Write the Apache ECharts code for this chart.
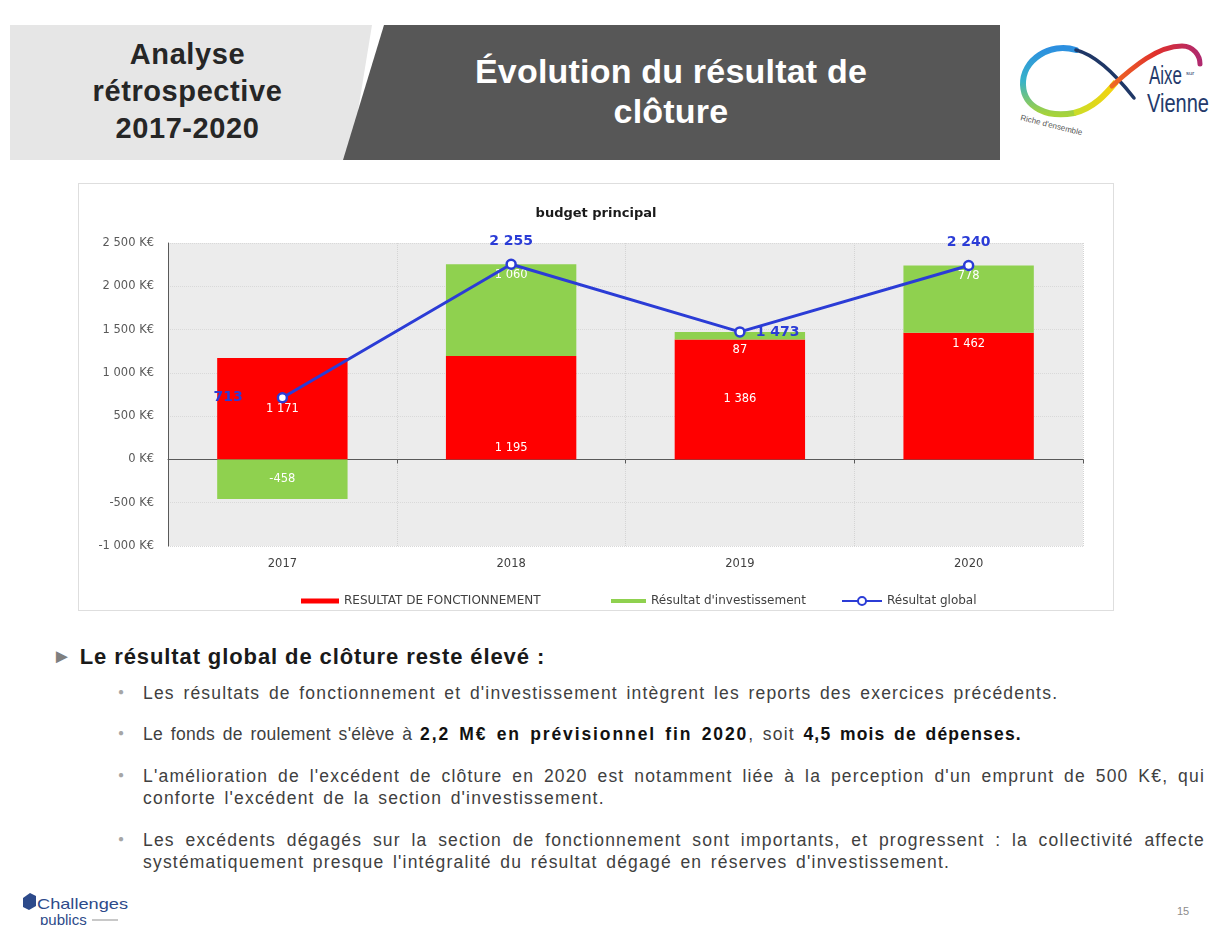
<!DOCTYPE html>
<html>
<head>
<meta charset="utf-8">
<style>
  html, body { margin: 0; padding: 0; background: #fff; }
  body { width: 1210px; height: 925px; position: relative; overflow: hidden; font-family: "Liberation Sans", Arial, sans-serif; }
  .abs { position: absolute; }
  #chart { left: 78px; top: 183px; width: 1036px; height: 428px; border: 1px solid #dedede; box-sizing: border-box; }
  .left-title { left: 10px; top: 36px; width: 355px; text-align: center; font-weight: bold; font-size: 29px; line-height: 37px; letter-spacing: 0.6px; color: #262626; }
  .main-title { left: 345px; top: 51px; width: 652px; text-align: center; font-weight: bold; font-size: 34px; line-height: 40px; letter-spacing: 0.2px; color: #fff; }
  .head { left: 52px; top: 644px; font-weight: bold; font-size: 22px; letter-spacing: 0.9px; color: #1a1a1a; }
  .head .tri { color: #7f7f7f; font-size: 20px; margin-right: 7px; position: relative; top: -1px; }
  .bul { left: 118px; width: 1092px; font-size: 17.5px; color: #404040; line-height: 22px; }
  .bul .dot { position: absolute; left: 0; top: -1px; color: #a6a6a6; font-size: 10px; }
  .bul .txt { position: absolute; left: 25px; width: 1062px; letter-spacing: 1.2px; word-spacing: 2.5px; white-space: nowrap; }
  .bul .just { text-align: justify; text-align-last: justify; white-space: normal; }
  .bul b { color: #111; }
  .tight { letter-spacing: 0.3px; }
  .wide { letter-spacing: 1.9px; }
</style>
</head>
<body>
<svg class="abs" style="left:0;top:0" width="1210" height="925">
  <defs>
    <linearGradient id="gLeft" x1="0" y1="0" x2="0" y2="1">
      <stop offset="0" stop-color="#2c8fe0"/>
      <stop offset="0.5" stop-color="#38b3c8"/>
      <stop offset="1" stop-color="#a6d33a"/>
    </linearGradient>
    <linearGradient id="gYel" x1="0" y1="0" x2="1" y2="0">
      <stop offset="0" stop-color="#c9dd2a"/>
      <stop offset="1" stop-color="#f6d20c"/>
    </linearGradient>
    <linearGradient id="gRed" x1="0" y1="0" x2="1" y2="0">
      <stop offset="0" stop-color="#ef6a24"/>
      <stop offset="0.5" stop-color="#e0302c"/>
      <stop offset="1" stop-color="#b0296e"/>
    </linearGradient>
  </defs>
  <polygon points="10,25 372,25 350,160 10,160" fill="#e6e6e6"/>
  <polygon points="384,25 1000,25 1000,160 343,160" fill="#575757"/>
  <!-- logo -->
  <path d="M1076,50 C1050,42 1022,60 1023,85 C1024,108 1048,118 1074,113" fill="none" stroke="url(#gLeft)" stroke-width="6" stroke-linecap="round"/>
  <path d="M1074,113 C1094,108 1106,94 1116,82" fill="none" stroke="url(#gYel)" stroke-width="6"/>
  <path d="M1076,50 C1096,55 1116,75 1134,98" fill="none" stroke="#1f3766" stroke-width="3.5" stroke-linecap="round"/>
  <path d="M1112,86 C1134,66 1158,46 1182,46 C1194,46 1200,56 1200,64" fill="none" stroke="url(#gRed)" stroke-width="5" stroke-linecap="round"/>
  <text x="1149" y="84" font-family="Liberation Sans" font-size="26" fill="#243a6b" textLength="33" lengthAdjust="spacingAndGlyphs">Aixe</text>
  <text x="1186" y="75" font-family="Liberation Sans" font-size="6" fill="#243a6b">sur</text>
  <text x="1147" y="112" font-family="Liberation Sans" font-size="26" fill="#243a6b" textLength="62" lengthAdjust="spacingAndGlyphs">Vienne</text>
  <text x="1020" y="120" font-family="Liberation Sans" font-size="8" fill="#555" transform="rotate(14 1020 120)">Riche d'ensemble</text>
  <!-- footer logo -->
  <path d="M23,898 l7,-5 l6,3 l0,10 l-7,4 l-6,-3 z" fill="#2d4a8a"/>
  <text x="37" y="909" font-family="Liberation Sans" font-size="15" fill="#2d4a8a" textLength="91" lengthAdjust="spacingAndGlyphs">Challenges</text>
  <text x="40" y="925" font-family="Liberation Sans" font-size="15" fill="#2d4a8a">publics</text>
  <line x1="92" y1="920" x2="118" y2="920" stroke="#c8c8c8" stroke-width="2"/>
  <text x="1177" y="915" font-family="Liberation Sans" font-size="11" fill="#8c8c8c">15</text>
</svg>

<div class="abs left-title">Analyse<br>rétrospective<br>2017-2020</div>
<div class="abs main-title">Évolution du résultat de<br>clôture</div>

<div id="chart" class="abs"></div>

<div class="abs head"><span class="tri">&#9658;</span>Le résultat global de clôture reste élevé :</div>
<div class="abs bul" style="top:682px"><span class="dot">&#9679;</span><div class="txt">Les résultats de fonctionnement et d'investissement intègrent les reports des exercices précédents.</div></div>
<div class="abs bul" style="top:723px"><span class="dot">&#9679;</span><div class="txt"><span class="tight">Le fonds de roulement s'élève à </span><b class="wide">2,2 M€ en prévisionnel fin 2020</b>, soit <b>4,5 mois de dépenses.</b></div></div>
<div class="abs bul" style="top:765px"><span class="dot">&#9679;</span><div class="txt"><div class="just">L'amélioration de l'excédent de clôture en 2020 est notamment liée à la perception d'un emprunt de 500 K€, qui</div><div>conforte l'excédent de la section d'investissement.</div></div></div>
<div class="abs bul" style="top:829px"><span class="dot">&#9679;</span><div class="txt"><div class="just">Les excédents dégagés sur la section de fonctionnement sont importants, et progressent : la collectivité affecte</div><div>systématiquement presque l'intégralité du résultat dégagé en réserves d'investissement.</div></div></div>

<script src="https://cdn.jsdelivr.net/npm/echarts@6/dist/echarts.min.js"></script>
<script>
// data
var years = ['2017', '2018', '2019', '2020'];
var fonctionnement = [1171, 1195, 1386, 1462];
var investissement = [-458, 1060, 87, 778];
var resultatGlobal = [713, 2255, 1473, 2240];

// label placement per year (style only)
var posFonct = ['inside', 'insideBottom', 'inside', 'insideTop'];
var posInvest = ['inside', 'insideTop', 'bottom', 'insideTop'];
var posGlobal = ['left', 'top', 'right', 'top'];

function fmt(v) {
    var s = String(Math.abs(Math.round(v))).replace(/\B(?=(\d{3})+(?!\d))/g, ' ');
    return (v < 0 ? '-' : '') + s;
}

var myChart = echarts.init(document.getElementById('chart'));

var FONT = 'DejaVu Sans';
var legendText = { fontSize: 12, color: '#404040', fontFamily: FONT };

var option = {
    animation: false,
    textStyle: { fontFamily: FONT },
    title: {
        text: 'budget principal',
        left: 'center',
        top: 18,
        textStyle: { fontSize: 13, fontWeight: 'bold', color: '#1a1a1a', fontFamily: FONT }
    },
    grid: {
        left: 89, right: 30, top: 59, bottom: 64,
        show: true,
        backgroundColor: '#ececec',
        borderWidth: 0
    },
    legend: [{
        left: 217, top: 406, itemWidth: 38, itemHeight: 5, itemGap: 4,
        textStyle: legendText,
        data: [{ name: 'RESULTAT DE FONCTIONNEMENT', icon: 'rect' }]
    }, {
        left: 527, top: 406, itemWidth: 35, itemHeight: 4,
        textStyle: legendText,
        data: [{ name: "Résultat d'investissement", icon: 'rect' }]
    }, {
        left: 757, top: 406, itemWidth: 40, itemHeight: 10,
        textStyle: legendText,
        data: [{ name: 'Résultat global' }]
    }],
    xAxis: [{
        type: 'category',
        data: years,
        position: 'bottom',
        axisLine: { show: false, onZero: false },
        axisTick: { show: false },
        axisLabel: { fontSize: 11.5, color: '#404040', margin: 12 },
        splitLine: {
            show: true,
            lineStyle: { color: '#d4d4d4', type: 'dotted' }
        }
    }, {
        type: 'category',
        data: years,
        position: 'bottom',
        axisLine: { show: true, onZero: true, lineStyle: { color: '#595959', width: 1 } },
        axisTick: { show: true, length: 4, lineStyle: { color: '#595959' } },
        axisLabel: { show: false },
        splitLine: { show: false }
    }],
    yAxis: {
        type: 'value',
        min: -1000,
        max: 2500,
        interval: 500,
        axisLine: { show: true, lineStyle: { color: '#595959' } },
        axisTick: { show: false },
        axisLabel: {
            fontSize: 11.5, color: '#595959', margin: 14,
            formatter: function (v) { return fmt(v) + ' K€'; }
        },
        splitLine: { show: true, lineStyle: { color: '#d9d9d9', type: 'dotted' } }
    },
    series: [{
        name: 'RESULTAT DE FONCTIONNEMENT',
        type: 'bar',
        stack: 'res',
        barWidth: '57%',
        itemStyle: { color: '#ff0000' },
        data: fonctionnement.map(function (v, i) {
            return { value: v, label: { position: posFonct[i] } };
        }),
        label: {
            show: true, color: '#ffffff', fontSize: 11.5,
            formatter: function (p) { return fmt(p.value); }
        }
    }, {
        name: "Résultat d'investissement",
        type: 'bar',
        stack: 'res',
        barWidth: '57%',
        itemStyle: { color: '#8fd14f' },
        data: investissement.map(function (v, i) {
            return { value: v, label: { position: posInvest[i] } };
        }),
        label: {
            show: true, color: '#ffffff', fontSize: 11.5,
            formatter: function (p) { return fmt(p.value); }
        }
    }, {
        name: 'Résultat global',
        type: 'line',
        symbol: 'circle',
        symbolSize: 9,
        lineStyle: { color: '#2b3cd6', width: 3 },
        itemStyle: { color: '#ffffff', borderColor: '#2b3cd6', borderWidth: 2.5 },
        data: resultatGlobal.map(function (v, i) {
            return { value: v, label: { position: posGlobal[i], distance: i === 0 ? 34 : 10 } };
        }),
        label: {
            show: true, color: '#2b3cd6', fontSize: 14, fontWeight: 'bold',
            formatter: function (p) { return fmt(p.value); }
        },
        z: 5
    }]
};

myChart.setOption(option);
</script>
</body>
</html>
